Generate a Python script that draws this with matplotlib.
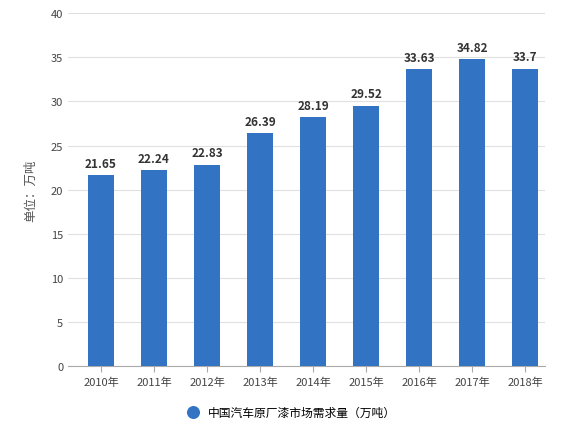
import matplotlib
matplotlib.use("Agg")
import matplotlib.pyplot as plt

plt.rcParams['font.family'] = ['Noto Sans CJK SC', 'DejaVu Sans']

years = ["2010年","2011年","2012年","2013年","2014年","2015年","2016年","2017年","2018年"]
values = [21.65, 22.24, 22.83, 26.39, 28.19, 29.52, 33.63, 34.82, 33.7]
labels = ["21.65","22.24","22.83","26.39","28.19","29.52","33.63","34.82","33.7"]

fig = plt.figure(figsize=(5.77, 4.27), dpi=100)
ax = fig.add_axes([0.118, 0.140, 0.827, 0.827])
color = '#3373c4'
x = range(len(years))
ax.bar(x, values, width=0.48, color=color, zorder=3)
for i, (v, l) in enumerate(zip(values, labels)):
    ax.text(i, v + 0.6, l, ha='center', va='bottom', fontsize=8.5, fontweight='bold', color='#333333')
ax.set_xlim(-0.62, 8.38)
ax.set_ylim(0, 40)
ax.set_yticks(range(0, 41, 5))
ax.set_xticks(list(x))
ax.set_xticklabels(years)
ax.tick_params(axis='both', labelsize=8, colors='#444444', length=0)
ax.tick_params(axis='x', length=4, color='#aaaaaa')
ax.grid(axis='y', color='#e0e0e0', linewidth=0.8, zorder=0)
for s in ['top', 'right', 'left']:
    ax.spines[s].set_visible(False)
ax.spines['bottom'].set_color('#aaaaaa')
ax.set_ylabel("单位：万吨", fontsize=9, color='#555555', labelpad=10)
h = ax.scatter([], [], s=70, color=color)
fig.legend([h], ["中国汽车原厂漆市场需求量（万吨）"], loc='center', bbox_to_anchor=(0.5, 0.033),
           frameon=False, fontsize=8.5, handletextpad=0.3)
fig.savefig("out.png", dpi=100)
